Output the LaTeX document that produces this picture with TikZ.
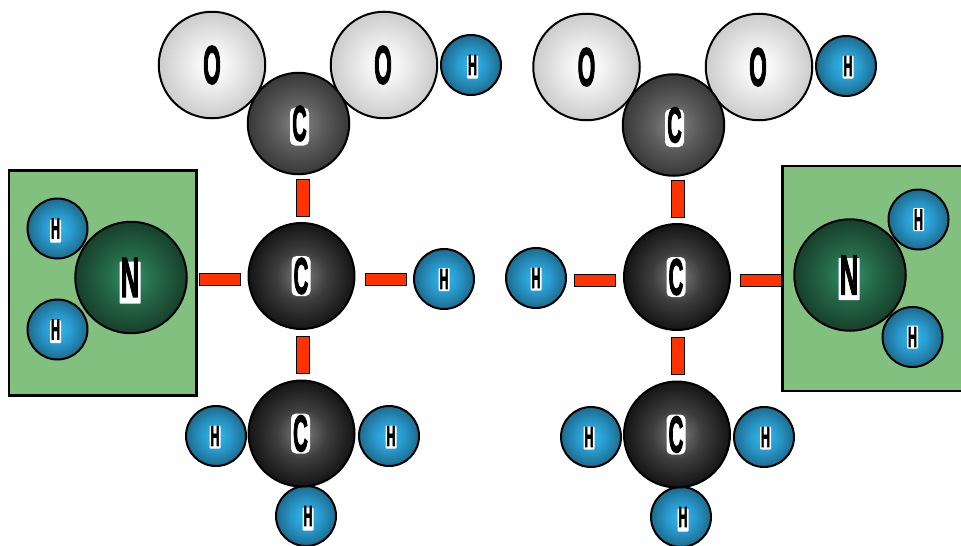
\documentclass[tikz,border=0pt]{standalone}
\usepackage{fontspec}
\setmainfont{Liberation Sans}
\newfontfamily\atomfont[FakeBold=3]{Liberation Sans Bold}
\pgfdeclareradialshading{ballO}{\pgfpoint{0bp}{0bp}}{rgb(0bp)=(1,1,1);rgb(7bp)=(0.96,0.96,0.96);rgb(25bp)=(0.80,0.80,0.80);rgb(50bp)=(0.80,0.80,0.80)}
\pgfdeclareradialshading{ballCa}{\pgfpoint{0bp}{0bp}}{rgb(0bp)=(0.53,0.53,0.53);rgb(12bp)=(0.36,0.36,0.36);rgb(25bp)=(0.22,0.22,0.22);rgb(50bp)=(0.22,0.22,0.22)}
\pgfdeclareradialshading{ballCb}{\pgfpoint{0bp}{0bp}}{rgb(0bp)=(0.50,0.50,0.50);rgb(12bp)=(0.24,0.24,0.24);rgb(25bp)=(0.08,0.08,0.08);rgb(50bp)=(0.08,0.08,0.08)}
\pgfdeclareradialshading{ballH}{\pgfpoint{0bp}{0bp}}{rgb(0bp)=(0.20,0.73,0.93);rgb(12bp)=(0.16,0.60,0.80);rgb(25bp)=(0.11,0.42,0.55);rgb(50bp)=(0.11,0.42,0.55)}
\pgfdeclareradialshading{ballN}{\pgfpoint{0bp}{0bp}}{rgb(0bp)=(0.20,0.58,0.41);rgb(12bp)=(0.14,0.40,0.27);rgb(25bp)=(0.09,0.25,0.17);rgb(50bp)=(0.09,0.25,0.17)}
\definecolor{boxgreen}{RGB}{130,192,128}
\definecolor{bondred}{RGB}{255,51,0}
\def\ox{0pt}\def\oy{0pt}
\newcommand{\lett}[2]{\raisebox{\dimexpr-\oy\relax}{\makebox[0pt]{\hspace*{\dimexpr2\dimexpr\ox\relax\relax}\scalebox{#1}[1]{\atomfont #2}}}}
\tikzset{
  off/.code 2 args={\def\ox{#1}\def\oy{#2}},
  atom/.style={circle,draw=black,line width=2pt,inner sep=0pt,text=black,align=center},
  halo/.style n args={3}{path picture={\fill[white,rounded corners=#3]
     ([xshift=\ox-#1,yshift=-\oy-#2]path picture bounding box.center) rectangle
     ([xshift=\ox+#1,yshift=-\oy+#2]path picture bounding box.center);}},
  oxy/.style={atom,minimum size=106.5pt,shading=ballO,font=\fontsize{54}{54}\selectfont,off={0pt}{3pt}},
  hyd/.style={atom,minimum size=60pt,shading=ballH,halo={5.5pt}{11.5pt}{1pt},font=\fontsize{29}{29}\selectfont},
  carA/.style={atom,minimum size=101.5pt,shading=ballCa,halo={9.5pt}{19pt}{5pt},font=\fontsize{50}{50}\selectfont,off={1pt}{3pt}},
  carB/.style={atom,minimum size=106pt,shading=ballCb,halo={9.5pt}{20pt}{5pt},font=\fontsize{51}{51}\selectfont},
  nit/.style={atom,minimum size=111.5pt,shading=ballN,halo={10.5pt}{21pt}{0.5pt},font=\fontsize{56}{56}\selectfont},
  greenbox/.style={draw=black,line width=2.2pt,fill=boxgreen,inner sep=0pt},
  bond/.style={draw=black,line width=1.8pt,fill=bondred,inner sep=0pt}
}
\newcommand{\Hl}{\lett{0.42}{H}}
\newcommand{\Ol}{\lett{0.42}{O}}
\newcommand{\Cl}{\lett{0.40}{C}}
\newcommand{\Nl}{\lett{0.45}{N}}
\begin{document}
\begin{tikzpicture}[x=1pt,y=-1pt]
\useasboundingbox (0,0) rectangle (961,546);
\clip (0,0) rectangle (961,546);
% left molecule
\node[greenbox,minimum width=187.5pt,minimum height=225pt] (lbox) at (102.75,283) {};
\node[hyd,off={-2pt}{2.5pt}] (lh1) at (57.5,228.5) {\Hl};
\node[hyd,off={-2pt}{2pt}] (lh2) at (57.5,329.5) {\Hl};
\node[nit,off={-1pt}{5pt}] (ln) at (131,277.5) {\Nl};
\node[oxy] (lo1) at (212,65) {\Ol};
\node[oxy,off={-1pt}{3pt}] (lo2) at (384,65) {\Ol};
\node[hyd,off={1.5pt}{2pt}] (lh3) at (471,65) {\Hl};
\node[carA] (lc1) at (298.5,123.5) {\Cl};
\node[bond,minimum width=13pt,minimum height=37pt] (lb1) at (303,198) {};
\node[bond,minimum width=41pt,minimum height=12pt] (lb2) at (220,279.5) {};
\node[bond,minimum width=41pt,minimum height=12pt] (lb3) at (386,279.5) {};
\node[bond,minimum width=13pt,minimum height=37pt] (lb4) at (303,355) {};
\node[carB,off={-0.5pt}{0pt}] (lc2) at (301.5,276) {\Cl};
\node[hyd,off={0pt}{0.5pt}] (lh4) at (444,279) {\Hl};
\node[hyd,off={-1pt}{1pt}] (lh5) at (216,436) {\Hl};
\node[hyd,off={2pt}{1pt}] (lh6) at (389,436) {\Hl};
\node[hyd,off={2pt}{3pt}] (lh7) at (306,516) {\Hl};
\node[carB,off={-1pt}{0pt}] (lc3) at (301.5,433.5) {\Cl};
% right molecule
\node[greenbox,minimum width=187.5pt,minimum height=225pt] (rbox) at (876.25,278.5) {};
\node[hyd,off={0pt}{0pt}] (rh1) at (918.5,219.5) {\Hl};
\node[hyd,off={0pt}{0pt}] (rh2) at (912.5,337) {\Hl};
\node[nit,off={-1pt}{4pt}] (rn) at (850,275) {\Nl};
\node[oxy] (ro1) at (586.5,67) {\Ol};
\node[oxy,off={-1pt}{3pt}] (ro2) at (759,67) {\Ol};
\node[hyd,off={2pt}{1pt}] (rh3) at (846,66) {\Hl};
\node[carA] (rc1) at (673.5,125) {\Cl};
\node[bond,minimum width=13pt,minimum height=37pt] (rb1) at (678,199) {};
\node[bond,minimum width=41pt,minimum height=12pt] (rb2) at (595,280.5) {};
\node[bond,minimum width=41pt,minimum height=12pt] (rb3) at (761,280.5) {};
\node[bond,minimum width=13pt,minimum height=37pt] (rb4) at (678,356) {};
\node[carB,off={-1pt}{0pt}] (rc2) at (677,277) {\Cl};
\node[hyd,off={0pt}{1pt}] (rh4) at (536,278) {\Hl};
\node[hyd,off={-2pt}{1pt}] (rh5) at (591,437) {\Hl};
\node[hyd,off={1.5pt}{1pt}] (rh6) at (764,437) {\Hl};
\node[hyd,off={2pt}{3pt}] (rh7) at (681,517) {\Hl};
\node[carB,off={-1pt}{0pt}] (rc3) at (677,434.5) {\Cl};
\end{tikzpicture}
\end{document}
